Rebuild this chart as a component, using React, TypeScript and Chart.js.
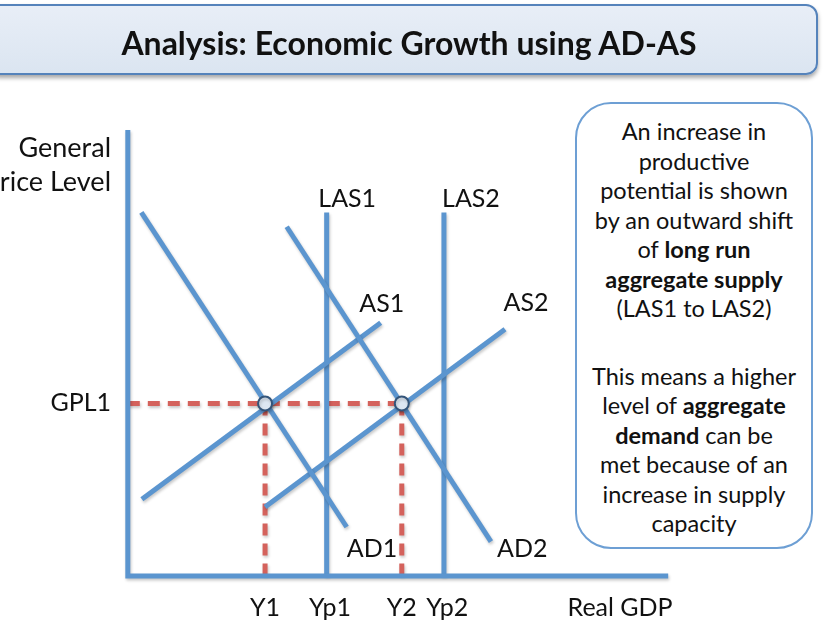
import React, { useEffect, useRef } from 'react';
import { Chart, registerables } from 'chart.js';

Chart.register(...registerables);

// ---- Data (diagram units: Real GDP 0..100, Price level 0..100) ----
const AXES = [{ x: 0, y: 100 }, { x: 0, y: 0 }, { x: 100, y: 0 }];
const AD1 = [{ x: 2.5, y: 81.5 }, { x: 40.5, y: 11.0 }];
const AD2 = [{ x: 29.4, y: 78.3 }, { x: 67.2, y: 7.7 }];
const AS1 = [{ x: 2.6, y: 17.2 }, { x: 46.8, y: 56.8 }];
const AS2 = [{ x: 25.4, y: 15.5 }, { x: 69.8, y: 55.3 }];
const LAS1 = [{ x: 36.8, y: 0 }, { x: 36.8, y: 81.5 }];
const LAS2 = [{ x: 58.5, y: 0 }, { x: 58.5, y: 81.5 }];
const GPL1_LINE = [{ x: 0, y: 38.7 }, { x: 50.7, y: 38.7 }];
const Y1_LINE = [{ x: 25.4, y: 38.7 }, { x: 25.4, y: 0 }];
const Y2_LINE = [{ x: 50.7, y: 38.7 }, { x: 50.7, y: 0 }];
const EQUILIBRIA = [{ x: 25.4, y: 38.7 }, { x: 50.7, y: 38.7 }];

const CURVE_NAMES = ['LAS1', 'LAS2', 'AS1', 'AS2', 'AD1', 'AD2'];
const CURVE_LABEL_X = [40.6, 63.5, 47.0, 73.7, 45.2, 73.0];
const CURVE_LABEL_Y = [84.6, 84.6, 61.0, 61.2, 6.1, 6.1];

const X_TICK_VALUES = [25.4, 37.4, 50.7, 59.1, 91.1];
const X_TICK_LABELS = ['Y1', 'Yp1', 'Y2', 'Yp2', 'Real GDP'];
const Y_TICK_VALUES = [38.7, 92.0];
const Y_TICK_LABELS: (string | string[])[] = ['GPL1', ['General', 'Price Level']];

const FONT = 'Lato, "Open Sans", "DejaVu Sans", sans-serif';
const BLUE = '#5b95cf';
const RED = '#d4625c';

const curveLabelPlugin = {
  id: 'curveLabels',
  afterDatasetsDraw(chart: any) {
    const { ctx, scales } = chart;
    ctx.save();
    ctx.font = `25px ${FONT}`;
    ctx.fillStyle = '#111';
    ctx.textAlign = 'center';
    ctx.textBaseline = 'middle';
    CURVE_NAMES.forEach((name, i) => {
      ctx.fillText(
        name,
        scales.x.getPixelForValue(CURVE_LABEL_X[i]),
        scales.y.getPixelForValue(CURVE_LABEL_Y[i])
      );
    });
    ctx.restore();
  },
};

const shadowPlugin = {
  id: 'lineShadow',
  beforeDatasetsDraw(chart: any) {
    const ctx = chart.ctx;
    ctx.save();
    ctx.shadowColor = 'rgba(0,0,0,0.22)';
    ctx.shadowBlur = 3;
    ctx.shadowOffsetX = 1;
    ctx.shadowOffsetY = 2;
  },
  afterDatasetsDraw(chart: any) {
    chart.ctx.restore();
  },
};

function lineDs(data: any[], color: string, order: number, dash: number[] = []) {
  return {
    data,
    showLine: true,
    borderColor: color,
    backgroundColor: color,
    borderWidth: 5,
    borderDash: dash,
    pointRadius: 0,
    pointHoverRadius: 0,
    fill: false,
    tension: 0,
    order,
  };
}

export default function App() {
  const ref = useRef<HTMLCanvasElement | null>(null);

  useEffect(() => {
    if (!ref.current) return;
    const chart = new Chart(ref.current, {
      type: 'scatter',
      data: {
        datasets: [
          {
            data: EQUILIBRIA,
            pointRadius: 7,
            pointBackgroundColor: '#dde7f2',
            pointBorderColor: '#34557a',
            pointBorderWidth: 2,
            showLine: false,
            order: 0,
          } as any,
          lineDs(AXES, BLUE, 1),
          lineDs(AD1, BLUE, 1),
          lineDs(AD2, BLUE, 1),
          lineDs(AS1, BLUE, 1),
          lineDs(AS2, BLUE, 1),
          lineDs(LAS1, BLUE, 1),
          lineDs(LAS2, BLUE, 1),
          lineDs(GPL1_LINE, RED, 2, [12, 8]),
          lineDs(Y1_LINE, RED, 2, [12, 8]),
          lineDs(Y2_LINE, RED, 2, [12, 8]),
        ],
      },
      options: {
        responsive: false,
        animation: false,
        events: [],
        layout: { padding: { left: 0, top: 121, right: 144, bottom: 0 } },
        plugins: { legend: { display: false }, tooltip: { enabled: false } },
        scales: {
          x: {
            type: 'linear',
            min: -2,
            max: 102,
            grid: { display: false, drawTicks: false },
            border: { display: false },
            afterBuildTicks: (s: any) => {
              s.ticks = X_TICK_VALUES.map((v) => ({ value: v }));
            },
            afterFit: (s: any) => {
              s.height = 37;
            },
            ticks: {
              autoSkip: false,
              maxRotation: 0,
              padding: 8,
              color: '#111',
              font: { family: FONT, size: 25 },
              callback: (_v: any, i: number) => X_TICK_LABELS[i],
            },
          },
          y: {
            type: 'linear',
            min: -2,
            max: 102,
            grid: { display: false, drawTicks: false },
            border: { display: false },
            afterBuildTicks: (s: any) => {
              s.ticks = Y_TICK_VALUES.map((v) => ({ value: v }));
            },
            afterFit: (s: any) => {
              s.width = 117;
            },
            ticks: {
              autoSkip: false,
              padding: 6,
              color: '#111',
              font: (c: any) =>
                c.index === 1
                  ? { family: FONT, size: 27, lineHeight: 1.26 }
                  : { family: FONT, size: 25 },
              callback: (_v: any, i: number) => Y_TICK_LABELS[i] as any,
            },
          },
        },
      } as any,
      plugins: [shadowPlugin, curveLabelPlugin],
    });
    return () => chart.destroy();
  }, []);

  const boxLine = { margin: 0, lineHeight: '29.5px', whiteSpace: 'nowrap' as const };

  return (
    <div
      style={{
        position: 'absolute',
        left: 0,
        top: 0,
        width: 823,
        height: 622,
        overflow: 'hidden',
        background: '#fff',
        fontFamily: FONT,
        color: '#111',
      }}
    >
      <canvas ref={ref} width={823} height={622} style={{ position: 'absolute', left: 0, top: 0 }} />
      <div
        style={{
          position: 'absolute',
          left: -12,
          top: 4,
          width: 830,
          height: 71,
          boxSizing: 'border-box',
          border: '2px solid #5583bb',
          borderRadius: 12,
          background: 'linear-gradient(#e8eef7, #dbe5f1)',
          boxShadow: '0 3px 4px rgba(0,0,0,0.35)',
          display: 'flex',
          alignItems: 'center',
          justifyContent: 'center',
          fontWeight: 700,
          fontSize: 32,
          paddingLeft: 12,
          paddingTop: 5,
        }}
      >
        Analysis: Economic Growth using AD-AS
      </div>
      <div
        style={{
          position: 'absolute',
          left: 575,
          top: 102,
          width: 238,
          height: 447,
          boxSizing: 'border-box',
          border: '2px solid #6d9fd4',
          borderRadius: 36,
          background: '#fff',
          textAlign: 'center',
          fontSize: 23.5,
          paddingTop: 13,
        }}
      >
        <p style={boxLine}>An increase in</p>
        <p style={boxLine}>productive</p>
        <p style={boxLine}>potential is shown</p>
        <p style={boxLine}>by an outward shift</p>
        <p style={boxLine}>
          of <b>long run</b>
        </p>
        <p style={boxLine}>
          <b>aggregate supply</b>
        </p>
        <p style={boxLine}>(LAS1 to LAS2)</p>
        <div style={{ height: 38 }} />
        <p style={boxLine}>This means a higher</p>
        <p style={boxLine}>
          level of <b>aggregate</b>
        </p>
        <p style={boxLine}>
          <b>demand</b> can be
        </p>
        <p style={boxLine}>met because of an</p>
        <p style={boxLine}>increase in supply</p>
        <p style={boxLine}>capacity</p>
      </div>
    </div>
  );
}
